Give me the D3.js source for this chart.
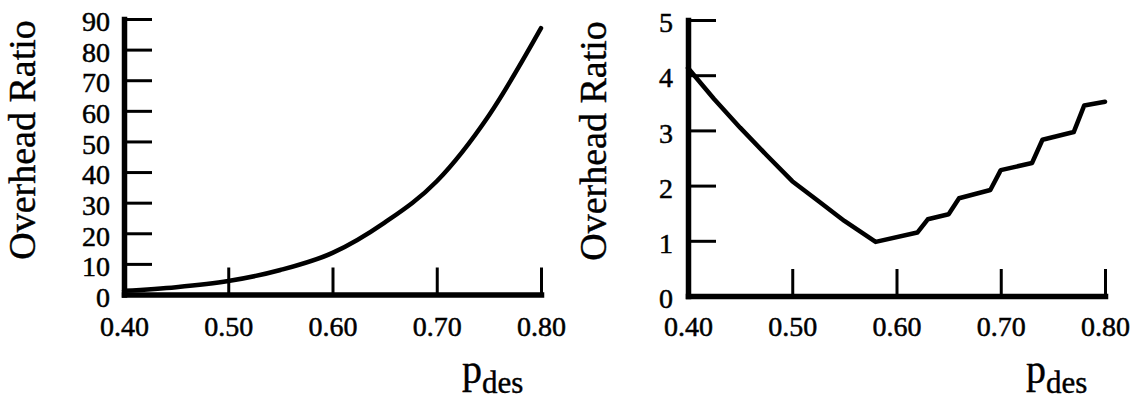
<!DOCTYPE html>
<html>
<head>
<meta charset="utf-8">
<script src="https://cdn.jsdelivr.net/npm/d3@7"></script>
<style>
  html, body { margin: 0; padding: 0; background: #fff; }
  svg { display: block; }
  svg text, svg tspan { font-family: "Liberation Serif", "Times New Roman", Times, serif !important; fill: #000; }
</style>
</head>
<body>
<svg id="chart" width="1137" height="400"></svg>
<script>
// data

const xTicks = [0.40, 0.50, 0.60, 0.70, 0.80];
const leftYTicks = [0, 10, 20, 30, 40, 50, 60, 70, 80, 90];
const rightYTicks = [0, 1, 2, 3, 4, 5];

// left panel: overhead ratio, smooth growth
const leftP =     [0.40, 0.45, 0.50, 0.55, 0.60, 0.65, 0.70, 0.75, 0.80];
const leftRatio = [1.2,  2.4,  4.4,  8.0,  13.6, 23.5, 37.0, 58.5, 87.0];

// right panel: falls to a minimum, then climbs in steps
const rightP =     [0.40, 0.425, 0.45, 0.475, 0.50, 0.525, 0.55, 0.565, 0.58,
                    0.62, 0.63, 0.65, 0.66, 0.69, 0.70, 0.73, 0.74,
                    0.77, 0.78, 0.80];
const rightRatio = [4.13, 3.57, 3.05, 2.56, 2.08, 1.72, 1.36, 1.17, 0.98,
                    1.15, 1.39, 1.48, 1.77, 1.92, 2.28, 2.41, 2.83,
                    2.97, 3.45, 3.52];

const svg = d3.select('#chart');
const FONT = '"Liberation Serif", "Times New Roman", Times, serif';

// scanned print looks heavy, thicken glyphs a bit
function heavy(sel, w) {
  sel.attr('stroke', '#000').attr('stroke-width', w).attr('paint-order', 'stroke');
}

/**
 * draws one panel: axes with inward ticks, curve, titles
 */
function drawPanel(cfg) {
  const x = d3.scaleLinear().domain([0.40, 0.80]).range(cfg.xRange);
  const y = d3.scaleLinear().domain(cfg.yDomain).range(cfg.yRange);
  const g = svg.append('g').attr('font-family', FONT);

  // x axis, ticks pointing up into the plot
  const gx = g.append('g')
    .attr('transform', `translate(0,${cfg.yRange[0]})`)
    .call(d3.axisBottom(x).tickValues(xTicks).tickFormat(d3.format('.2f'))
      .tickSizeInner(-27).tickSizeOuter(0));

  // y axis, ticks pointing right
  const gy = g.append('g')
    .attr('transform', `translate(${cfg.xRange[0]},0)`)
    .call(d3.axisLeft(y).tickValues(cfg.yTicks).tickFormat(d3.format('d'))
      .tickSizeInner(-28).tickSizeOuter(0));

  [gx, gy].forEach(a => {
    a.attr('font-family', FONT);
    a.select('.domain').attr('stroke', '#000').attr('stroke-width', 5.5)
      .attr('stroke-linecap', 'square');
    a.selectAll('.tick line').attr('stroke', '#000').attr('stroke-width', 3);
    a.selectAll('text').attr('font-family', FONT).attr('font-size', 28).attr('fill', '#000')
      .call(heavy, 0.5);
  });

  gx.selectAll('.tick text').attr('y', 336 - cfg.yRange[0]).attr('dy', null);
  gy.selectAll('.tick text').attr('x', -cfg.labelGap).attr('dy', '0.42em');

  // curve
  const line = d3.line()
    .x((d, i) => x(cfg.p[i]))
    .y(d => y(d))
    .curve(cfg.curve);

  g.append('path')
    .datum(cfg.values)
    .attr('d', line)
    .attr('fill', 'none')
    .attr('stroke', '#000')
    .attr('stroke-width', 4.5)
    .attr('stroke-linejoin', 'round')
    .attr('stroke-linecap', 'round');

  // y title
  g.append('text')
    .attr('transform', `translate(${cfg.titleX},${cfg.titleY}) rotate(-90)`)
    .attr('text-anchor', 'middle')
    .attr('font-family', FONT)
    .attr('font-size', 38)
    .text('Overhead Ratio')
    .call(heavy, 0.4);

  // x title p_des
  const t = g.append('text')
    .attr('font-family', FONT)
    .attr('x', cfg.pX)
    .attr('y', 383)
    .call(heavy, 0.4);
  t.append('tspan').attr('font-size', 40).text('p');
  t.append('tspan').attr('font-size', 31).attr('dy', 10).text('des');
}

drawPanel({
  xRange: [124, 541], yDomain: [0, 90], yRange: [294.5, 19],
  yTicks: leftYTicks, labelGap: 14,
  p: leftP, values: leftRatio, curve: d3.curveMonotoneX,
  titleX: 35, titleY: 140, pX: 462
});

drawPanel({
  xRange: [688, 1105], yDomain: [0, 5], yRange: [296, 20],
  yTicks: rightYTicks, labelGap: 15,
  p: rightP, values: rightRatio, curve: d3.curveLinear,
  titleX: 606, titleY: 141, pX: 1026
});
</script>
</body>
</html>
